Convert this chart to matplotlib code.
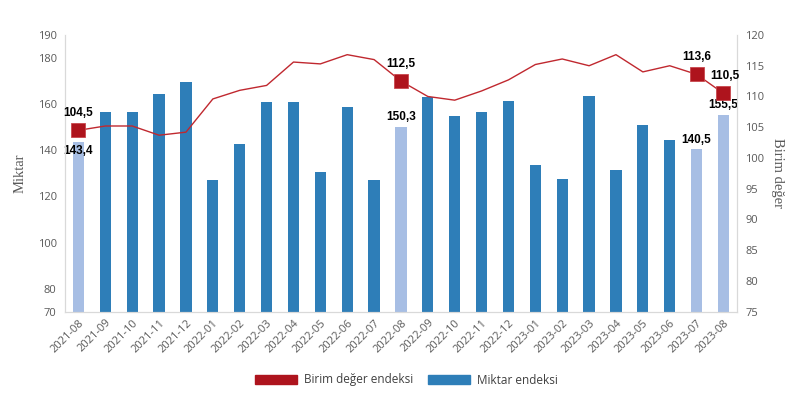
import matplotlib.pyplot as plt
from matplotlib.patches import Patch

# months on the x axis
months = ["2021-08", "2021-09", "2021-10", "2021-11", "2021-12",
          "2022-01", "2022-02", "2022-03", "2022-04", "2022-05", "2022-06", "2022-07",
          "2022-08", "2022-09", "2022-10", "2022-11", "2022-12",
          "2023-01", "2023-02", "2023-03", "2023-04", "2023-05", "2023-06", "2023-07",
          "2023-08"]

# Miktar endeksi (bars, left axis)
miktar = [143.4, 156.6, 156.6, 164.5, 169.6, 127.1, 142.6, 160.9, 160.8, 130.5,
          158.9, 127.0, 150.3, 163.2, 154.7, 156.7, 161.5, 133.6, 127.4, 163.4,
          131.6, 151.0, 144.5, 140.5, 155.5]

# Birim deger endeksi (line, right axis)
birim = [104.5, 105.2, 105.2, 103.7, 104.2, 109.6, 111.0, 111.8, 115.6, 115.3,
         116.8, 116.0, 112.5, 110.0, 109.4, 110.9, 112.7, 115.2, 116.1, 115.0,
         116.8, 114.0, 115.0, 113.6, 110.5]

# highlighted months (labelled, light bars, square markers)
highlight = [0, 12, 23, 24]

dark_blue = "#2E7EB8"
light_blue = "#A7BEE4"
red = "#AE141D"
line_red = "#C0282F"
grey = "#595959"

plt.rcParams['font.family'] = ['Open Sans', 'DejaVu Sans']

fig = plt.figure(figsize=(7.97, 4), dpi=100)
ax = fig.add_axes([0.0816, 0.2208, 0.843, 0.6917])
ax2 = ax.twinx()

x = list(range(len(months)))
colors = [light_blue if i in highlight else dark_blue for i in x]
ax.bar(x, miktar, width=0.42, color=colors, zorder=2)

ax.set_xlim(-0.5, len(months) - 0.5)
ax.set_ylim(70, 190)
ax.set_yticks([70, 80, 100, 120, 140, 160, 180, 190])
ax2.set_ylim(75, 120)
ax2.set_yticks(range(75, 121, 5))

ax.set_xticks(x)
ax.set_xticklabels(months, rotation=45, ha='right', rotation_mode='anchor')

ax2.plot(x, birim, color=line_red, lw=1.0, zorder=3)
ax2.plot(highlight, [birim[i] for i in highlight], 's', color=red, ms=9.5,
         mec="#C8474D", mew=0.6, zorder=4, linestyle='none')

for i in highlight:
    ax2.annotate(f"{birim[i]:.1f}".replace(".", ","), (i, birim[i]),
                 xytext=(1 if i == 24 else 0, 12.5), textcoords='offset points',
                 ha='center', va='center',
                 fontsize=8.5, fontweight='bold', family='Liberation Sans', color='black')
    off = -6.5 if i == 0 else 6.8
    ax.annotate(f"{miktar[i]:.1f}".replace(".", ","), (i, miktar[i]),
                xytext=(0, off), textcoords='offset points', ha='center', va='center',
                fontsize=8.5, fontweight='bold', family='Liberation Sans', color='black')

for a in (ax, ax2):
    for s in a.spines.values():
        s.set_color("#D9D9D9")
    a.spines['top'].set_visible(False)
    a.tick_params(length=0, labelsize=8, colors=grey, pad=6)
ax.tick_params(axis='x', pad=4)

ax.set_ylabel("Miktar", family='Liberation Serif', fontsize=10.5, color=grey, labelpad=8)
ax2.set_ylabel("Birim değer", family='Liberation Serif', fontsize=10.5, color=grey,
               rotation=270, labelpad=14)

handles = [Patch(color=red, label="Birim değer endeksi"),
           Patch(color=dark_blue, label="Miktar endeksi")]
fig.legend(handles=handles, loc='center', bbox_to_anchor=(0.51, 0.05), ncol=2,
           frameon=False, fontsize=8.5, handlelength=3.6, handleheight=0.9,
           columnspacing=1.2, handletextpad=0.6, labelcolor='#404040')

fig.savefig("out.png", dpi=100)
